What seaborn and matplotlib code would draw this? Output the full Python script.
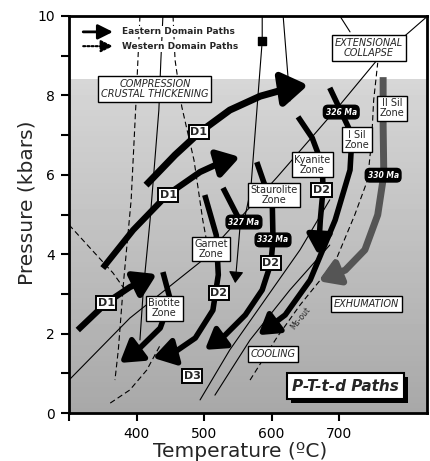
import numpy as np
import pandas as pd
import matplotlib
matplotlib.use("Agg")
import matplotlib.pyplot as plt
import seaborn as sns
from matplotlib.patches import FancyArrowPatch, ArrowStyle
from matplotlib.path import Path
import matplotlib.patheffects as pe

# Eastern domain P-T paths: temperature (C) and pressure (kbar)
d1_high_T = [414, 457, 494, 538, 583, 627, 654]
d1_high_P = [5.74, 6.50, 7.08, 7.63, 7.98, 8.19, 8.26]
d1_mid_T = [350, 395, 445, 494, 526, 553]
d1_mid_P = [3.65, 4.61, 5.49, 6.07, 6.32, 6.45]
d1_low_T = [313, 355, 390, 430]
d1_low_P = [2.09, 2.77, 3.17, 3.50]
biotite_T = [439, 450, 435, 405, 375]
biotite_P = [3.55, 2.85, 2.14, 1.64, 1.26]
garnet_T = [501, 518, 521, 513, 487, 457, 424]
garnet_P = [5.49, 4.48, 3.48, 2.59, 1.89, 1.54, 1.39]
stauro_T = [578, 601, 602, 599, 586, 561, 531, 501]
stauro_P = [6.32, 5.19, 4.36, 3.78, 3.10, 2.47, 1.96, 1.59]
kyanite_T = [639, 660, 675, 676, 672, 669]
kyanite_P = [7.46, 6.93, 6.25, 5.62, 4.86, 3.98]
sil_T = [686, 703, 719, 716, 694, 657, 620, 580]
sil_P = [8.19, 7.58, 7.00, 6.12, 4.86, 3.35, 2.47, 1.96]
seg327_T = [528, 550]
seg327_P = [5.67, 4.94]
drop327_T = [553, 546]
drop327_P = [4.66, 3.27]

# Western domain path
west_T = [765, 765, 766, 757, 738, 709, 669]
west_P = [8.46, 7.25, 6.00, 4.99, 4.11, 3.60, 3.32]

# reaction lines / isograds
bt_T = [405, 402, 399, 392, 381, 373, 368]
bt_P = [10, 8.89, 7.78, 5.37, 3.35, 1.59, 0.83]
grt_T = [439, 436, 433, 420, 410, 405]
grt_P = [10, 8.89, 7.63, 4.86, 3.10, 1.84]
st_T = [454, 457, 467, 485, 498, 509]
st_P = [10, 8.89, 7.71, 6.37, 4.86, 3.85]
als_T = [300, 390, 494, 608, 701, 756, 831]
als_P = [0.83, 2.39, 3.80, 5.94, 7.76, 8.89, 10.0]
ky_T = [586, 586, 569, 561]
ky_P = [10, 9.37, 5.62, 4.99]
top_T = [617, 627]
top_P = [10, 7.86]
col_T = [701, 716]
col_P = [10, 9.6]
ms_T = [568, 608, 642, 672, 697, 723, 742, 748, 751, 757]
ms_P = [0.83, 1.91, 2.72, 3.35, 3.93, 4.99, 5.87, 6.88, 7.88, 8.82]
chl_T = [361, 390, 415, 435]
chl_P = [0.25, 0.58, 1.08, 1.71]
ul_T = [300, 331, 365, 383]
ul_P = [4.74, 4.16, 3.53, 3.10]
m1_T = [494, 538, 590, 642, 686]
m1_P = [0.33, 1.59, 2.85, 4.11, 5.37]
m2_T = [516, 568, 627, 686]
m2_P = [0.45, 1.84, 3.10, 4.23]

# labels
zone_text = ["Biotite\nZone", "Garnet\nZone", "Staurolite\nZone", "Kyanite\nZone",
             "I Sil\nZone", "II Sil\nZone"]
zone_T = [441, 510, 603, 660, 726, 778]
zone_P = [2.64, 4.13, 5.49, 6.25, 6.88, 7.68]
def_text = ["D1", "D1", "D1", "D2", "D2", "D2", "D3"]
def_T = [492, 447, 355, 522, 599, 674, 482]
def_P = [7.08, 5.49, 2.77, 3.02, 3.78, 5.62, 0.93]
age_text = ["326 Ma", "330 Ma", "327 Ma", "332 Ma"]
age_T = [703, 765, 559, 602]
age_P = [7.58, 5.99, 4.81, 4.36]
stage_text = ["COMPRESSION\nCRUSTAL THICKENING", "EXTENSIONAL\nCOLLAPSE", "EXHUMATION", "COOLING"]
stage_T = [427, 744, 740, 602]
stage_P = [8.16, 9.19, 2.75, 1.49]

sns.set_theme(style="ticks")
plt.rcParams["font.family"] = ["DejaVu Sans"]

fig = plt.figure(figsize=(4.3, 4.61), dpi=100)
ax = fig.add_axes([0.1605, 0.1041, 0.8326, 0.8612])

# stippled field
ax.imshow(np.linspace(0.84, 0.66, 64)[:, None], extent=(300, 830, 0, 8.4), origin="upper",
          aspect="auto", cmap="gray", vmin=0, vmax=1, zorder=0)

frames = []
for name, t, p, kind in [
    ("bt", bt_T, bt_P, "dashed"), ("grt", grt_T, grt_P, "solid"), ("st", st_T, st_P, "dashed"),
    ("als", als_T, als_P, "solid"), ("ky", ky_T, ky_P, "solid"), ("top", top_T, top_P, "solid"),
    ("col", col_T, col_P, "solid"), ("ms", ms_T, ms_P, "dashed"), ("chl", chl_T, chl_P, "dashed"),
    ("ul", ul_T, ul_P, "dashed"), ("m1", m1_T, m1_P, "solid"), ("m2", m2_T, m2_P, "solid")]:
    frames.append(pd.DataFrame({"T": t, "P": p, "line": name, "kind": kind}))
thin = pd.concat(frames, ignore_index=True)
sns.lineplot(data=thin, x="T", y="P", units="line", estimator=None, sort=False, style="kind",
             dashes={"solid": "", "dashed": (5, 3)}, color="black", lw=0.8, legend=False,
             ax=ax, zorder=2)


def thick_arrow(t, p, color="black", lw=4.0, ms=10, hl=1.2, hw=0.75, head=True):
    verts = np.column_stack([t, p])
    codes = [Path.MOVETO] + [Path.LINETO] * (len(verts) - 1)
    style = ArrowStyle("-|>", head_length=hl, head_width=hw) if head else ArrowStyle("-")
    ax.add_patch(FancyArrowPatch(path=Path(verts, codes), arrowstyle=style, mutation_scale=ms,
                                 lw=lw, color=color, joinstyle="round", capstyle="butt", zorder=3))


thick_arrow(d1_high_T, d1_high_P, lw=5, ms=12, hl=1.3, hw=0.85)
thick_arrow(d1_mid_T, d1_mid_P, lw=4.5, ms=11)
thick_arrow(d1_low_T, d1_low_P, lw=4.5, ms=11)
thick_arrow(biotite_T, biotite_P, lw=4, ms=11)
thick_arrow(garnet_T, garnet_P, lw=4, ms=11)
thick_arrow(stauro_T, stauro_P, lw=4, ms=10)
thick_arrow(kyanite_T, kyanite_P, lw=4, ms=10)
thick_arrow(sil_T, sil_P, lw=4, ms=10)
thick_arrow(seg327_T, seg327_P, lw=4, head=False)
thick_arrow(drop327_T, drop327_P, lw=0.8, ms=6)
thick_arrow(west_T, west_P, color="#555555", lw=5, ms=10)

# square symbol at the isograd intersection
ax.scatter([ky_T[1]], [ky_P[1]], marker="s", s=40, color="black", zorder=4)

# boxes
for s, t, p in zip(zone_text, zone_T, zone_P):
    ax.text(t, p, s, fontsize=7, ha="center", va="center", linespacing=1.0, zorder=6,
            bbox=dict(boxstyle="square,pad=0.25", fc="white", ec="black", lw=1.0))
for s, t, p in zip(def_text, def_T, def_P):
    ax.text(t, p, s, fontsize=8, fontweight="bold", ha="center", va="center", zorder=6,
            bbox=dict(boxstyle="square,pad=0.15", fc="white", ec="black", lw=1.4))
for s, t, p in zip(age_text, age_T, age_P):
    ax.text(t, p, s, fontsize=5.5, fontweight="bold", style="italic", color="white",
            ha="center", va="center", zorder=6,
            bbox=dict(boxstyle="round,pad=0.3,rounding_size=0.6", fc="black", ec="black"))
for s, t, p in zip(stage_text, stage_T, stage_P):
    ax.text(t, p, s, fontsize=7, style="italic", ha="center", va="center", linespacing=1.0,
            zorder=6, bbox=dict(boxstyle="square,pad=0.3", fc="white", ec="black", lw=1.0))

ax.text(642, 2.39, "Ms-out", fontsize=5.5, rotation=51, ha="center", va="center", zorder=5)

# title box with drop shadow
title = ax.text(709, 0.68, "P-T-t-d Paths", fontsize=11, fontweight="bold", style="italic",
                ha="center", va="center", zorder=7,
                bbox=dict(boxstyle="square,pad=0.35", fc="white", ec="black", lw=1.5))
title.get_bbox_patch().set_path_effects(
    [pe.SimplePatchShadow(offset=(3, -3), shadow_rgbFace="black", alpha=1.0), pe.Normal()])

# legend
ax.annotate("", xy=(365, 9.60), xytext=(321, 9.60), zorder=6,
            arrowprops=dict(arrowstyle="-|>,head_length=0.9,head_width=0.45", mutation_scale=10,
                            lw=2, color="black", shrinkA=0, shrinkB=0))
ax.annotate("", xy=(365, 9.24), xytext=(321, 9.24), zorder=6,
            arrowprops=dict(arrowstyle="-|>,head_length=0.9,head_width=0.45", mutation_scale=8,
                            lw=1.5, ls=(0, (1, 1)), color="black", shrinkA=0, shrinkB=0))
for s, p in [("Eastern Domain Paths", 9.60), ("Western Domain Paths", 9.24)]:
    ax.text(378, p, s, fontsize=6.5, fontweight="bold", ha="left", va="center", zorder=6,
            bbox=dict(boxstyle="square,pad=0.1", fc="white", ec="none"))

ax.set_xlim(300, 830)
ax.set_ylim(0, 10)
ax.set_xticks([300, 400, 500, 600, 700])
ax.set_xticklabels(["", "400", "500", "600", "700"])
ax.set_yticks([0, 2, 4, 6, 8, 10])
ax.set_yticks([1, 3, 5, 7, 9], minor=True)
ax.tick_params(which="both", direction="out", length=6, width=1.5, labelsize=10, pad=4,
               colors="black")
for sp in ax.spines.values():
    sp.set_linewidth(2)
    sp.set_color("black")
ax.set_xlabel("Temperature (ºC)", fontsize=14.5)
ax.set_ylabel("Pressure (kbars)", fontsize=14.5)
ax.xaxis.set_label_coords(0.478, -0.072)
ax.yaxis.set_label_coords(-0.09, 0.53)

fig.savefig("out.png", dpi=100)
